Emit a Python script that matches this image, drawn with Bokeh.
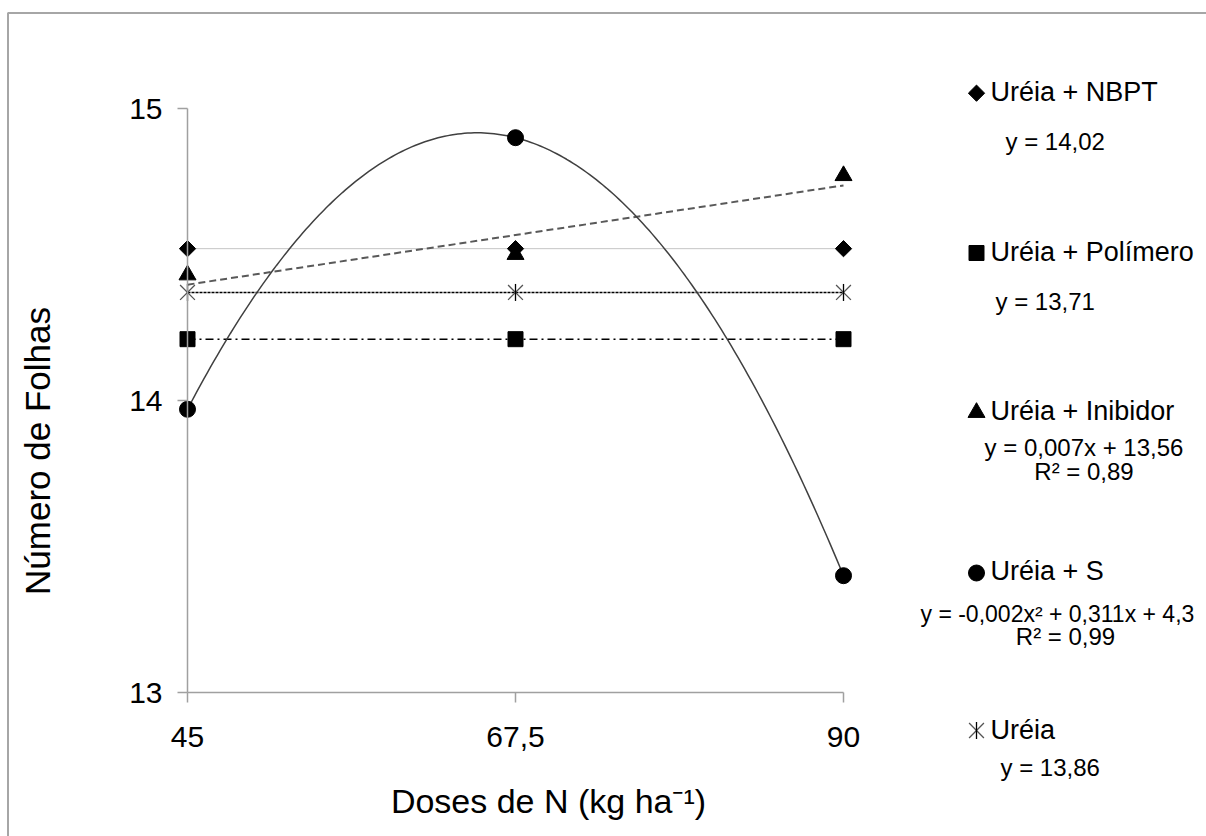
import numpy as np
from bokeh.plotting import figure
from bokeh.models import Range1d, FixedTicker, Label, BoxAnnotation
from bokeh.embed import file_html
from bokeh.resources import INLINE

# ---------------- data ----------------
doses = [45, 67.5, 90]
dose_labels = ["45", "67,5", "90"]
y_ticks = [13, 14, 15]

nbpt = [14.52, 14.52, 14.52]        # Uréia + NBPT
polimero = [14.21, 14.21, 14.21]    # Uréia + Polímero
inibidor = [14.43, 14.50, 14.77]    # Uréia + Inibidor
enxofre = [13.97, 14.90, 13.40]     # Uréia + S
ureia = [14.37, 14.37, 14.37]       # Uréia

legend_names = ["Uréia + NBPT", "Uréia + Polímero", "Uréia + Inibidor", "Uréia + S", "Uréia"]
equations = ["y = 14,02", "y = 13,71", "y = 0,007x + 13,56", "y = -0,002x² + 0,311x + 4,3", "y = 13,86"]
r2_texts = ["R² = 0,89", "R² = 0,99"]

x_title = "Doses de N (kg ha⁻¹)"
y_title = "Número de Folhas"

# ---------------- layout (page pixels) ----------------
W, H = 1206, 836
X0_PX, X1_PX = 187, 843
YT_PX, YB_PX = 108, 692
xmin, xmax = min(doses), max(doses)
ymin, ymax = min(y_ticks), max(y_ticks)
sx = (X1_PX - X0_PX) / (xmax - xmin)
sy = (YB_PX - YT_PX) / (ymax - ymin)
x_start = xmin - X0_PX / sx
x_end = xmin + (W - X0_PX) / sx
y_end = ymax + YT_PX / sy
y_start = ymin - (H - YB_PX) / sy


def px(v):
    return x_start + v / sx


def py(v):
    return y_end - v / sy


FONT = "Liberation Sans"
BASE_FIX = 0.37  # em offset to put the alphabetic baseline where wanted

p = figure(width=W, height=H, x_range=Range1d(x_start, x_end), y_range=Range1d(y_start, y_end),
           output_backend="svg", toolbar_location=None, min_border=0, title=None)
p.background_fill_color = "white"
p.border_fill_color = "white"
p.outline_line_color = None
p.grid.visible = False

# outer chart border
p.add_layout(BoxAnnotation(left=px(7.5), top=py(12.5), right=px(W + 20), bottom=py(H + 20),
                           fill_alpha=0, line_color="#a6a6a6", line_alpha=1, line_width=2,
                           level="underlay"))

# axes
AX_COL = "#a0a0a0"
xa = p.xaxis[0]
xa.fixed_location = ymin
xa.bounds = (xmin, xmax)
xa.ticker = FixedTicker(ticks=doses)
xa.major_label_overrides = {d: l for d, l in zip(doses, dose_labels)}
ya = p.yaxis[0]
ya.fixed_location = xmin
ya.bounds = (ymin, ymax)
ya.ticker = FixedTicker(ticks=y_ticks)
for ax in (xa, ya):
    ax.axis_line_color = AX_COL
    ax.axis_line_width = 1.5
    ax.major_tick_line_color = AX_COL
    ax.major_tick_line_width = 1.5
    ax.major_tick_out = 10
    ax.major_tick_in = 0
    ax.minor_tick_line_color = None
    ax.major_label_text_font = FONT
    ax.major_label_text_font_size = "30px"
    ax.major_label_text_color = "black"
xa.major_label_standoff = 24
ya.major_label_standoff = 15

# trend lines
xx = np.linspace(xmin, xmax, 200)
p.line(doses, [np.mean(nbpt)] * 3, line_color="#8a8a8a", line_width=1, line_dash="1 1")
lin = np.polyfit(doses, inibidor, 1)
p.line([xmin, xmax], np.polyval(lin, [xmin, xmax]), line_color="#595959", line_width=2, line_dash="7 4")
p.line(doses, [np.mean(ureia)] * 3, line_color="black", line_width=1.5, line_dash="3 1")
p.line(doses, [np.mean(polimero)] * 3, line_color="black", line_width=1.5, line_dash="8 4 2 4")
quad = np.polyfit(doses, enxofre, 2)
p.line(xx, np.polyval(quad, xx), line_color="#404040", line_width=1.5)


def draw_markers(xs, ys, kind):
    if kind == 0:
        p.scatter(xs, ys, marker="square", angle=np.pi / 4, size=11.5, color="black")
    elif kind == 1:
        p.scatter(xs, ys, marker="square", size=15, color="black")
    elif kind == 2:
        p.scatter(xs, ys, marker="triangle", size=17, color="black")
    elif kind == 3:
        p.scatter(xs, ys, marker="circle", size=16, color="black")
    else:
        p.scatter(xs, ys, marker="x", size=21, line_color="#555555", line_width=1.3)
        p.scatter(xs, ys, marker="dash", angle=np.pi / 2, size=17, line_color="black", line_width=1.3)


for k, series in enumerate([nbpt, polimero, inibidor, enxofre, ureia]):
    draw_markers(doses, series, k)


def label(xp, yp, text, fs, align="left", angle=0.0):
    if angle:
        xp = xp - BASE_FIX * fs
    else:
        yp = yp - BASE_FIX * fs
    p.add_layout(Label(x=px(xp), y=py(yp), text=text, text_font=FONT, text_font_size=f"{fs}px",
                       text_color="black", text_align=align, text_baseline="alphabetic",
                       angle=angle))


# legend (manual, Excel-like)
LEG_MX = 976
leg_marker_y = [92.7, 252.5, 412, 572.5, 730]
leg_text_base = [101, 261, 420, 580, 739]
for k, name in enumerate(legend_names):
    draw_markers([px(LEG_MX)], [py(leg_marker_y[k])], k)
    label(990, leg_text_base[k], name, 27)

eq_pos = [(1005, 150, "left", 24), (995, 310, "left", 24), (1083.5, 456, "center", 24),
          (920, 622, "left", 23), (1000, 776, "left", 24)]
for (ex, ey, al, fs), txt in zip(eq_pos, equations):
    label(ex, ey, txt, fs, al)
for (rx, ry), txt in zip([(1083.5, 480), (1065, 645)], r2_texts):
    label(rx, ry, txt, 24, "center")

# axis titles
label(548, 813, x_title, 34, "center")
label(50, 450.5, y_title, 35, "center", angle=np.pi / 2)

open("out.html", "w").write(file_html(p, INLINE))
